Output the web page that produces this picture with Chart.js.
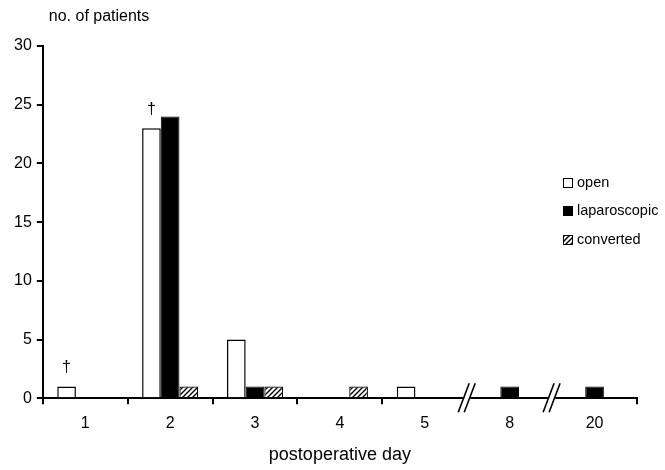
<!DOCTYPE html>
<html>
<head>
<meta charset="utf-8">
<script src="https://cdn.jsdelivr.net/npm/chart.js@4"></script>
<style>
    html, body { margin: 0; padding: 0; background: #fff; }
    #wrap { width: 665px; height: 470px; }
</style>
</head>
<body>
<div id="wrap"><canvas id="chart"></canvas></div>
<script>
// Data
const days = ['1', '2', '3', '4', '5', '8', '20'];
const openPatients = [1, 23, 5, 0, 1, 0, 0];
const laparoscopicPatients = [0, 24, 1, 0, 0, 1, 1];
const convertedPatients = [0, 1, 1, 1, 0, 0, 0];
const yTicks = [0, 5, 10, 15, 20, 25, 30];
const breakAfter = ['5', '8'];     // axis broken after these days
const daggerDays = ['1', '2'];     // open bars marked with †

const FONT = '"Liberation Sans", Arial, sans-serif';

// diagonal hatch for the converted group
function makeHatch() {
    const c = document.createElement('canvas');
    c.width = 5;
    c.height = 5;
    const g = c.getContext('2d');
    g.fillStyle = '#fff';
    g.fillRect(0, 0, 5, 5);
    g.strokeStyle = '#000';
    g.lineWidth = 1.4;
    g.beginPath();
    g.moveTo(-1, 6); g.lineTo(6, -1);
    g.moveTo(-1, 1); g.lineTo(1, -1);
    g.moveTo(4, 6); g.lineTo(6, 4);
    g.stroke();
    return g.createPattern(c, 'repeat');
}
const hatch = makeHatch();

const breakLines = breakAfter.map(d => days.indexOf(d) + 1);

// Axis breaks, daggers, y label and legend
const decorPlugin = {
    id: 'decor',
    afterDraw(chart) {
        const ctx = chart.ctx;
        const area = chart.chartArea;
        const x = chart.scales.x;
        ctx.save();

        // axis break marks
        breakAfter.forEach(d => {
            const i = days.indexOf(d);
            const bx = (x.getPixelForValue(i) + x.getPixelForValue(i + 1)) / 2;
            const by = area.bottom;
            ctx.fillStyle = '#fff';
            ctx.fillRect(bx - 3, by - 3, 6, 6);
            ctx.strokeStyle = '#000';
            ctx.lineWidth = 1.6;
            ctx.beginPath();
            ctx.moveTo(bx - 9, by + 14); ctx.lineTo(bx + 2, by - 15);
            ctx.moveTo(bx - 3, by + 14); ctx.lineTo(bx + 8, by - 15);
            ctx.stroke();
        });

        // daggers over open bars
        const meta = chart.getDatasetMeta(0);
        ctx.fillStyle = '#000';
        ctx.font = '16px ' + FONT;
        ctx.textAlign = 'center';
        ctx.textBaseline = 'bottom';
        daggerDays.forEach(d => {
            const bar = meta.data[days.indexOf(d)];
            ctx.fillText('\u2020', bar.x, bar.y - 11);
        });

        // y axis caption
        ctx.font = '16px ' + FONT;
        ctx.textAlign = 'left';
        ctx.textBaseline = 'middle';
        ctx.fillText('no. of patients', area.left + 6, 17);

        // legend
        const rowY = [183, 211, 240];
        chart.data.datasets.forEach((ds, k) => {
            ctx.fillStyle = ds.backgroundColor;
            ctx.fillRect(563, rowY[k] - 5, 10, 10);
            ctx.strokeStyle = '#000';
            ctx.lineWidth = 1;
            ctx.strokeRect(563.5, rowY[k] - 4.5, 9, 9);
            ctx.fillStyle = '#000';
            ctx.font = '14.5px ' + FONT;
            ctx.fillText(ds.label, 577, rowY[k]);
        });
        ctx.restore();
    }
};

new Chart(document.getElementById('chart'), {
    type: 'bar',
    data: {
        labels: days,
        datasets: [
            { label: 'open', data: openPatients, backgroundColor: '#fff', borderColor: '#000', borderWidth: 1.5 },
            { label: 'laparoscopic', data: laparoscopicPatients, backgroundColor: '#000', borderColor: '#000', borderWidth: 1 },
            { label: 'converted', data: convertedPatients, backgroundColor: hatch, borderColor: '#000', borderWidth: 1.2 }
        ]
    },
    options: {
        responsive: true,
        maintainAspectRatio: false,
        animation: false,
        layout: { padding: { top: 46, right: 28, left: 9, bottom: 4 } },
        datasets: { bar: { categoryPercentage: 0.66, barPercentage: 1 } },
        plugins: {
            legend: { display: false },
            tooltip: { enabled: false }
        },
        scales: {
            x: {
                border: { color: '#000', width: 2 },
                grid: {
                    drawOnChartArea: false,
                    tickLength: 6,
                    lineWidth: 2,
                    color: c => breakLines.includes(c.index) ? 'rgba(0,0,0,0)' : '#000'
                },
                ticks: { color: '#000', font: { family: FONT, size: 16 }, padding: 10 },
                title: {
                    display: true,
                    text: 'postoperative day',
                    color: '#000',
                    font: { family: FONT, size: 18 },
                    padding: { top: 1, bottom: 0 }
                }
            },
            y: {
                min: 0,
                max: 30,
                afterBuildTicks: s => { s.ticks = yTicks.map(v => ({ value: v })); },
                border: { color: '#000', width: 2 },
                grid: { drawOnChartArea: false, tickLength: 6, lineWidth: 2, color: '#000' },
                ticks: { color: '#000', font: { family: FONT, size: 16 }, padding: 5 }
            }
        }
    },
    plugins: [decorPlugin]
});
</script>
</body>
</html>
